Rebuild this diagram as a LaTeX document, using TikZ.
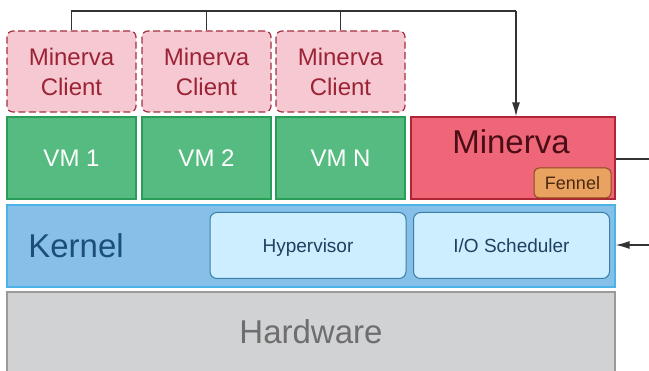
\documentclass[tikz,border=0pt]{standalone}
\usepackage{fontspec}
\setmainfont{Liberation Sans}
\usetikzlibrary{arrows.meta}
\definecolor{clientfill}{HTML}{F6C9D2}
\definecolor{clientline}{HTML}{A3303F}
\definecolor{clienttext}{HTML}{9B2335}
\definecolor{vmfill}{HTML}{55BB80}
\definecolor{vmline}{HTML}{2A9D58}
\definecolor{minfill}{HTML}{F06679}
\definecolor{minline}{HTML}{B02535}
\definecolor{mintext}{HTML}{4A0E16}
\definecolor{fenfill}{HTML}{E9A260}
\definecolor{fenline}{HTML}{8A4A1E}
\definecolor{fentext}{HTML}{4A2A10}
\definecolor{kerfill}{HTML}{86C0E8}
\definecolor{kerline}{HTML}{4DB3E6}
\definecolor{kertext}{HTML}{1B4E78}
\definecolor{subfill}{HTML}{CCEEFF}
\definecolor{subline}{HTML}{3A7FA8}
\definecolor{subtext}{HTML}{1F4060}
\definecolor{hwfill}{HTML}{D1D2D4}
\definecolor{hwline}{HTML}{9A9A9A}
\definecolor{hwtext}{HTML}{6E6E6E}
\definecolor{wire}{HTML}{333333}
\begin{document}
\begin{tikzpicture}[x=1pt,y=-1pt,
  client/.style={draw=clientline,fill=clientfill,line width=1.2pt,dash pattern=on 7pt off 3.5pt,
    rounded corners=6pt,minimum width=129pt,minimum height=81pt,inner sep=0pt,
    text=clienttext,align=center,font=\fontsize{24}{30}\selectfont},
  vmbox/.style={draw=vmline,fill=vmfill,line width=1.2pt,minimum width=129pt,minimum height=82pt,
    inner sep=0pt,text=white,font=\fontsize{24}{28}\selectfont},
  minbox/.style={draw=minline,fill=minfill,line width=1.2pt,minimum width=204pt,minimum height=82pt,inner sep=0pt},
  fenbox/.style={draw=fenline,fill=fenfill,line width=1pt,rounded corners=5pt,minimum width=77pt,
    minimum height=30pt,inner sep=0pt,text=fentext,font=\fontsize{18}{20}\selectfont},
  kerbox/.style={draw=kerline,fill=kerfill,line width=1.2pt,minimum width=608pt,minimum height=82pt,inner sep=0pt},
  subbox/.style={draw=subline,fill=subfill,line width=1pt,rounded corners=7pt,minimum width=196pt,
    minimum height=66pt,inner sep=0pt,text=subtext,font=\fontsize{19}{22}\selectfont,
    text height=14pt,text depth=0pt},
  hwbox/.style={draw=hwline,fill=hwfill,line width=1.2pt,minimum width=608pt,minimum height=84pt,inner sep=0pt},
  wireline/.style={draw=wire,line width=1.3pt},
  tip/.style={-{Latex[length=14pt,width=8pt]}}
]
\useasboundingbox (0,0) rectangle (649,371);

% guest side: clients sitting on their VMs
\node[client] (c1) at (71.5,71.5) {Minerva\\Client};
\node[client] (c2) at (206.5,71.5) {Minerva\\Client};
\node[client] (c3) at (340.5,71.5) {Minerva\\Client};
\node[vmbox] (vm1) at (71.5,158) {VM 1};
\node[vmbox] (vm2) at (206.5,158) {VM 2};
\node[vmbox] (vmn) at (340.5,158) {VM N};

% Minerva with Fennel
\node[minbox] (min) at (513,158) {};
\node[text=mintext,font=\fontsize{33}{36}\selectfont] (minlabel) at (511,142) {Minerva};
\node[fenbox] (fen) at (572.5,183) {Fennel};

% kernel layer
\node[kerbox] (ker) at (311,246) {};
\node[text=kertext,font=\fontsize{33}{36}\selectfont] (kerlabel) at (76,246) {Kernel};
\node[subbox] (hyp) at (308,245.5) {Hypervisor};
\node[subbox] (ios) at (511.5,245.5) {I/O Scheduler};

% hardware layer
\node[hwbox] (hw) at (311,334) {};
\node[text=hwtext,font=\fontsize{33}{36}\selectfont] (hwlabel) at (311,332) {Hardware};

% connectors
\coordinate (top) at (516,11);
\coordinate (east1) at (649,159);
\coordinate (east2) at (649,245);
\draw[wireline] (c1.north) -- (c1.north |- top) -- (top);
\draw[wireline] (c2.north) -- (c2.north |- top);
\draw[wireline] (c3.north) -- (c3.north |- top);
\draw[wireline,tip] (top) -- (top |- min.north);
\draw[wireline] (min.east |- east1) -- (east1);
\draw[wireline,tip] (east2) -- (ker.east |- east2);
\end{tikzpicture}
\end{document}
